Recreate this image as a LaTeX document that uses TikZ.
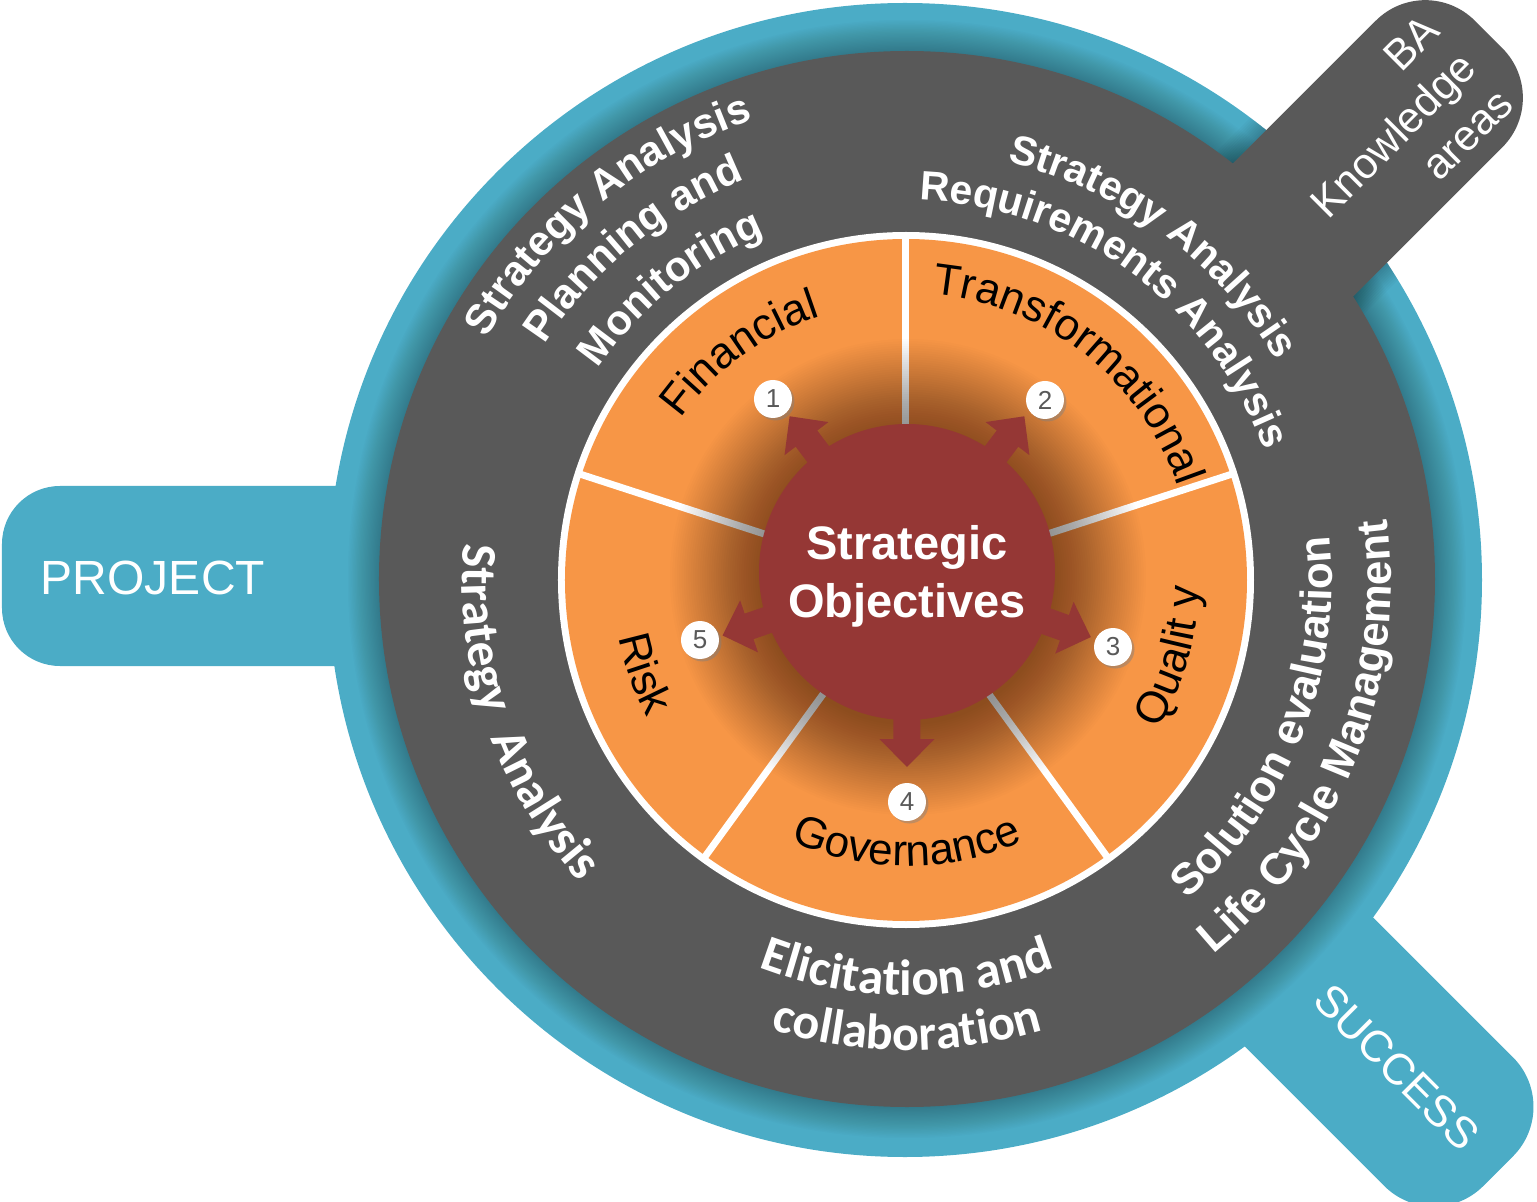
\documentclass[tikz,border=0pt]{standalone}
\usepackage{fontspec}
\setmainfont{Liberation Sans}
\newfontfamily\carlito{Carlito}
\usetikzlibrary{decorations.text,shadows}
\definecolor{tealc}{HTML}{4BACC6}
\definecolor{grayc}{HTML}{595959}
\definecolor{orangec}{HTML}{F79646}
\definecolor{redc}{HTML}{953735}
\newcommand\fsz[2]{\fontsize{#1}{#2}\selectfont}
% clockwise arc text (letters outward): #1 centre angle, #2 radius, #3 colour, #4 format, #5 text
\newcommand\cwarc[5]{\path[decorate,decoration={text along path,text={|#4|#5},text align=center,text color=#3}] ({#1+70}:#2) arc[start angle={#1+70},end angle={#1-70},radius=#2];}
% counter-clockwise arc text (letters inward)
\newcommand\ccwarc[5]{\path[decorate,decoration={text along path,text={|#4|#5},text align=center,text color=#3}] ({#1-70}:#2) arc[start angle={#1-70},end angle={#1+70},radius=#2];}
\tikzset{
  numc/.style={circle,fill=white,minimum size=38pt,inner sep=0pt,text=grayc,font=\fsz{26}{26},
    drop shadow={shadow xshift=2.5pt,shadow yshift=-2.5pt,opacity=0.45}},
  tabtext/.style={text=white,inner sep=0pt},
  centretext/.style={text=white,font=\bfseries\fsz{47}{47},anchor=base,inner sep=0pt},
  redarrow/.style={fill=redc}
}
\begin{document}
\begin{tikzpicture}[x=1pt,y=1pt]
\useasboundingbox (-907,-622) rectangle (630,580);
\fill[white] (-907,-622) rectangle (630,580);
% teal ring and tabs
\fill[tealc] (-2,0) circle (577);
\fill[tealc,rounded corners=58pt] (-905,-86) rectangle (-300,94);
\fill[tealc,rounded corners=70pt,rotate=-45] (300,-91) rectangle (836,91);
% shadow of grey disc on the teal
\foreach \i in {1,...,24}{\fill[black,opacity=0.013] (0,1) circle ({528+1.3*\i});}
\begin{scope}
  \clip (-2,0) circle (577);
  \foreach \w in {4,8,...,40}{\draw[black,opacity=0.022,line width=\w pt,rotate=45,rounded corners=70pt] (300,-115) rectangle (797,64);}
\end{scope}
% grey tab and disc
\fill[grayc,rounded corners=70pt,rotate=45] (300,-115) rectangle (797,64);
\fill[grayc] (0,1) circle (528);
% orange disc
\fill[white] (-1,0) circle (348);
\fill[orangec] (-1,0) circle (341);
\foreach \a in {90,18,-54,-126,162}{\draw[white,line width=7pt] (-1,0) -- ++(\a:343);}
% glow around centre
\foreach \i in {1,...,40}{\fill[black,opacity=0.0135] (1,3) circle ({146+2.3*\i});}
% arrows
\foreach \a in {127,53,-19.5,-90,199}{\fill[redarrow,shift={(0,8)},rotate=\a] (100,-13.5) -- (167,-13.5) -- (167,-27.5) -- (195,0) -- (167,27.5) -- (167,13.5) -- (100,13.5) -- cycle;}
\node[circle,fill=redc,minimum size=296pt,inner sep=0pt] (core) at (0,8) {};
\node[centretext] (so1) at (0,20) {Strategic};
\node[centretext] (so2) at (0,-37) {Objectives};
% numbers
\node[numc] (n1) at (-134,181) {1};
\node[numc] (n2) at (138,180) {2};
\node[numc] (n3) at (206,-67) {3};
\node[numc] (n4) at (0,-222) {4};
\node[numc] (n5) at (-207,-60) {5};
% segment labels
\cwarc{126.3}{278}{black}{\fsz{44}{44}}{Financial}
\cwarc{52}{287}{black}{\fsz{44}{44}}{Transformational}
\ccwarc{-16}{292}{black}{\fsz{44}{44}}{Qualit y}
\ccwarc{-90}{286}{black}{\fsz{44}{44}}{Governance}
\ccwarc{199.5}{294}{black}{\fsz{44}{44}}{Risk}
% grey ring labels
\cwarc{129.3}{485}{white}{\bfseries\fsz{42}{42}}{Strategy Analysis}
\cwarc{129.5}{432}{white}{\bfseries\fsz{42}{42}}{Planning and}
\cwarc{129}{374}{white}{\bfseries\fsz{42}{42}}{Monitoring}
\cwarc{53.6}{430}{white}{\bfseries\fsz{41}{41}}{Strategy Analysis}
\cwarc{54}{380}{white}{\bfseries\fsz{41}{41}}{Requirements Analysis}
\ccwarc{-21.4}{425}{white}{\bfseries\fsz{44}{44}}{Solution evaluation}
\ccwarc{-21.75}{484}{white}{\bfseries\fsz{44}{44}}{Life Cycle Management}
\ccwarc{-90}{415}{white}{\carlito\bfseries\fsz{51}{51}}{Elicitation and}
\ccwarc{-90}{470}{white}{\carlito\bfseries\fsz{50}{50}}{collaboration}
\ccwarc{186.5}{445}{white}{\carlito\bfseries\fsz{50}{50}}{Strategy}
\ccwarc{211.8}{445}{white}{\carlito\bfseries\fsz{50}{50}}{Analysis}
% tab labels
\node[tabtext,font=\fsz{48}{48}] (proj) at (-754,2) {PROJECT};
\node[tabtext,font=\fsz{44}{44},rotate=-45] (succ) at (490,-487) {SUCCESS};
\node[tabtext,font=\fsz{43}{52},rotate=45,align=right] (ba) at (486,445) {BA\\Knowledge\\areas};
\end{tikzpicture}
\end{document}
